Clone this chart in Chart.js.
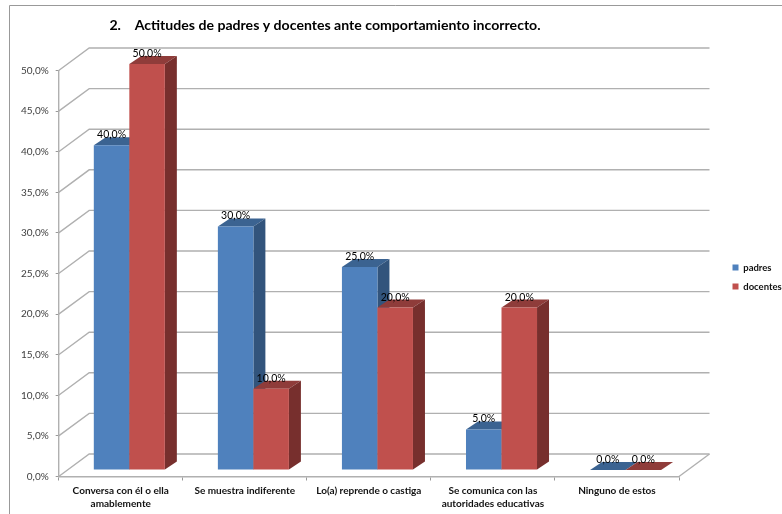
<!DOCTYPE html>
<html><head><meta charset="utf-8">
<script src="https://cdn.jsdelivr.net/npm/chart.js@4"></script>
<style>html,body{margin:0;padding:0;background:#fff;overflow:hidden}#w{position:relative;width:782px;height:514px}canvas{display:block}</style>
</head><body><div id="w"><canvas id="c" width="782" height="514"></canvas></div>
<script>
const titleText = "2.    Actitudes de padres y docentes ante comportamiento incorrecto.";
const categories = [["Conversa con él o ella","amablemente"],"Se muestra indiferente","Lo(a) reprende o castiga",["Se comunica con las","autoridades educativas"],"Ninguno de estos"];
const padres = [40,30,25,5,0];
const docentes = [50,10,20,20,0];
const seriesNames = ["padres","docentes"];
const frontColors = ["#4F81BD","#C0504D"];
const topColors = ["#3B6391","#8F3C3A"];
const sideColors = ["#32547C","#772F2D"];
const fmt = v => v.toFixed(1).replace(".",",") + "%";
const BAR_DX = 8.6, BAR_DY = 6.5, DEPTH_X = 12, DEPTH_Y = 8, WALL_DX = 30.5, WALL_DY = 22.5;
const LEGEND_WIDTH = 103, LEGEND_LEFT = 723, LEGEND_TOP_SHIFT = 20, TITLE_SHIFT = 132;

const scene = {
  id:"scene",
  beforeLayout(ch){
    const lg = ch.legend;
    if(lg && !lg._fixed){
      const f = lg.fit;
      lg.fit = function(){ f.call(this); this.width = LEGEND_WIDTH; };
      lg._fixed = true;
    }
  },
  afterLayout(ch){
    ch.titleBlock.right -= TITLE_SHIFT;
    const lg = ch.legend;
    lg.left = LEGEND_LEFT;
    lg.top += LEGEND_TOP_SHIFT;
    lg.bottom += LEGEND_TOP_SHIFT;
    lg.adjustHitBoxes && lg.adjustHitBoxes();
  },
  beforeDraw(ch){
    const {ctx,chartArea:a,scales:{y}} = ch;
    ctx.save();
    ctx.strokeStyle="#999999";ctx.lineWidth=1;
    ctx.beginPath();ctx.moveTo(9.5,514);ctx.lineTo(9.5,5.5);ctx.lineTo(782,5.5);ctx.stroke();
    ctx.strokeStyle="#B0B0B0";ctx.lineWidth=1.4;
    y.ticks.forEach(t=>{
      const p=y.getPixelForValue(t.value);
      ctx.beginPath();ctx.moveTo(a.left,p);ctx.lineTo(a.left+WALL_DX,p-WALL_DY);ctx.lineTo(a.right+WALL_DX,p-WALL_DY);ctx.stroke();
    });
    const b=y.getPixelForValue(0);
    ctx.beginPath();ctx.moveTo(a.right,b);ctx.lineTo(a.right+WALL_DX,b-WALL_DY);ctx.stroke();
    ctx.restore();
  },
  // the bars are painted below, series by series, so that later series cover earlier side faces
  beforeDatasetDraw(){ return false; },
  afterDatasetsDraw(ch){
    const {ctx}=ch;
    ch.data.datasets.forEach((ds,i)=>{
      const meta=ch.getDatasetMeta(i);
      ctx.save();
      ctx.translate(BAR_DX,-BAR_DY);
      meta.data.forEach(bar=>{
        const p=bar.getProps(["x","y","base","width"],true);
        const l=p.x-p.width/2, r=p.x+p.width/2;
        ctx.fillStyle=topColors[i];
        ctx.beginPath();ctx.moveTo(l,p.y);ctx.lineTo(l+DEPTH_X,p.y-DEPTH_Y);ctx.lineTo(r+DEPTH_X,p.y-DEPTH_Y);ctx.lineTo(r,p.y);ctx.closePath();ctx.fill();
        if(p.base-p.y>0.5){
          ctx.fillStyle=sideColors[i];
          ctx.beginPath();ctx.moveTo(r,p.y);ctx.lineTo(r+DEPTH_X,p.y-DEPTH_Y);ctx.lineTo(r+DEPTH_X,p.base-DEPTH_Y);ctx.lineTo(r,p.base);ctx.closePath();ctx.fill();
        }
      });
      meta.controller.draw();
      ctx.restore();
    });
    ctx.save();
    ctx.font="10.5px Lato, sans-serif";ctx.fillStyle="#000";ctx.textAlign="center";ctx.textBaseline="alphabetic";
    ch.data.datasets.forEach((ds,i)=>{
      ch.getDatasetMeta(i).data.forEach((bar,j)=>{
        ctx.fillText(fmt(ds.data[j]),bar.x+BAR_DX,bar.y-BAR_DY-7);
      });
    });
    ctx.restore();
  }
};

new Chart(document.getElementById("c"),{
  type:"bar",
  data:{labels:categories,datasets:[
    {label:seriesNames[0],data:padres,backgroundColor:frontColors[0]},
    {label:seriesNames[1],data:docentes,backgroundColor:frontColors[1]}
  ]},
  plugins:[scene],
  options:{
    responsive:false,animation:false,devicePixelRatio:1,
    layout:{padding:0},
    categoryPercentage:0.5726,barPercentage:1,
    scales:{
      x:{
        grid:{display:true,drawOnChartArea:false,drawTicks:true,tickLength:4,color:"#999999",offset:true},
        border:{display:true,color:"#B0B0B0",width:1.4},
        ticks:{maxRotation:0,autoSkip:false,color:"#111111",padding:4,font:{family:"Lato, sans-serif",size:10,weight:"bold",lineHeight:1.3}},
        afterFit(s){s.height=37.5;}
      },
      y:{
        min:0,max:50,
        grid:{display:true,drawOnChartArea:false,drawTicks:true,tickLength:3,color:"#999999"},
        border:{display:true,color:"#B0B0B0",width:1.4},
        ticks:{stepSize:5,color:"#404040",padding:7,font:{family:"Lato, sans-serif",size:10},callback:v=>fmt(v)},
        afterFit(s){s.width=58.7;}
      }
    },
    plugins:{
      title:{display:true,text:titleText,color:"#000",font:{family:"Lato, sans-serif",size:14.1,weight:"bold"},padding:{top:17,bottom:36.6}},
      legend:{
        display:true,position:"right",
        labels:{boxWidth:6,boxHeight:6,padding:9.5,color:"#111111",font:{family:"Lato, sans-serif",size:9.5,weight:"bold"}}
      },
      tooltip:{enabled:false}
    }
  }
});
</script></body></html>
